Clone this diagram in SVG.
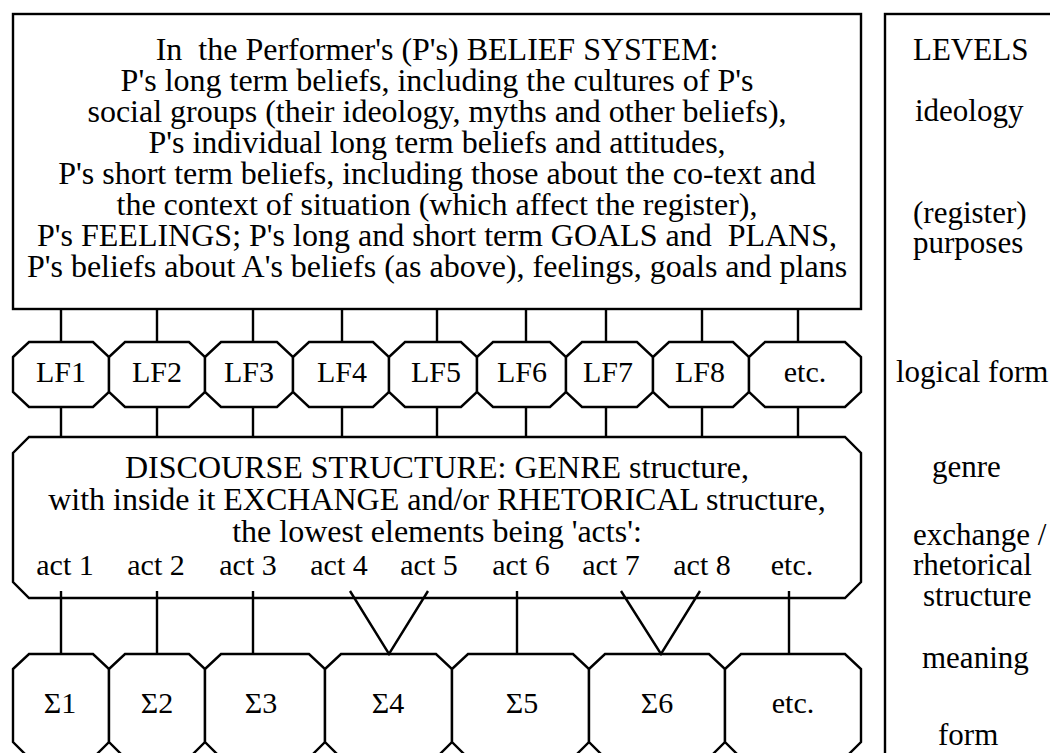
<svg xmlns="http://www.w3.org/2000/svg" width="1050" height="753" viewBox="0 0 1050 753">
<style>
.s{fill:#fff;stroke:#000;stroke-width:2.4;stroke-linejoin:miter}
.c{fill:none;stroke:#000;stroke-width:2.4}
text{font-family:"Liberation Serif","Times New Roman",serif;font-size:32px;fill:#000}
.m{text-anchor:middle}
.n{font-size:30px}
.r{font-size:31px}
</style>
<rect width="1050" height="753" fill="#fff"/>
<g id="belief-system">
<rect class="s" x="13" y="14" width="848" height="295"/>
<text class="m" xml:space="preserve" x="437" y="60">In  the Performer's (P's) BELIEF SYSTEM:</text>
<text class="m" x="437" y="91">P's long term beliefs, including the cultures of P's</text>
<text class="m" x="437" y="122">social groups (their ideology, myths and other beliefs),</text>
<text class="m" x="437" y="153">P's individual long term beliefs and attitudes,</text>
<text class="m" x="437" y="184">P's short term beliefs, including those about the co-text and</text>
<text class="m" x="437" y="215">the context of situation (which affect the register),</text>
<text class="m" xml:space="preserve" x="437" y="246">P's FEELINGS; P's long and short term GOALS and  PLANS,</text>
<text class="m" x="437" y="277">P's beliefs about A's beliefs (as above), feelings, goals and plans</text>
</g>
<g id="levels">
<rect class="s" x="885" y="14" width="200" height="780"/>
<text class="r" x="913" y="60">LEVELS</text>
<text class="r" x="915" y="121">ideology</text>
<text class="r" x="913" y="223">(register)</text>
<text class="r" x="913" y="253">purposes</text>
<text class="r" x="896" y="382">logical form</text>
<text class="r" x="932" y="477">genre</text>
<text class="r" x="913" y="545">exchange /</text>
<text class="r" x="913" y="575">rhetorical</text>
<text class="r" x="923" y="606">structure</text>
<text class="r" x="922" y="668">meaning</text>
<text class="r" x="938" y="745">form</text>
</g>
<g id="lf1"><path class="s" d="M13,357 L29,342 L93,342 L109,357 L109,392 L93,407 L29,407 L13,392 Z"/><text class="m n" x="61" y="382">LF1</text></g>
<g id="lf2"><path class="s" d="M109,357 L125,342 L189,342 L205,357 L205,392 L189,407 L125,407 L109,392 Z"/><text class="m n" x="157" y="382">LF2</text></g>
<g id="lf3"><path class="s" d="M205,357 L221,342 L277,342 L293,357 L293,392 L277,407 L221,407 L205,392 Z"/><text class="m n" x="249" y="382">LF3</text></g>
<g id="lf4"><path class="s" d="M293,357 L309,342 L373,342 L389,357 L389,392 L373,407 L309,407 L293,392 Z"/><text class="m n" x="342" y="382">LF4</text></g>
<g id="lf5"><path class="s" d="M389,357 L405,342 L461,342 L477,357 L477,392 L461,407 L405,407 L389,392 Z"/><text class="m n" x="436" y="382">LF5</text></g>
<g id="lf6"><path class="s" d="M477,357 L493,342 L550,342 L566,357 L566,392 L550,407 L493,407 L477,392 Z"/><text class="m n" x="522" y="382">LF6</text></g>
<g id="lf7"><path class="s" d="M566,357 L582,342 L637,342 L653,357 L653,392 L637,407 L582,407 L566,392 Z"/><text class="m n" x="608" y="382">LF7</text></g>
<g id="lf8"><path class="s" d="M653,357 L669,342 L733,342 L749,357 L749,392 L733,407 L669,407 L653,392 Z"/><text class="m n" x="700" y="382">LF8</text></g>
<g id="lf-etc"><path class="s" d="M749,357 L765,342 L845,342 L861,357 L861,392 L845,407 L765,407 L749,392 Z"/><text class="m n" x="805" y="382">etc.</text></g>
<g id="discourse">
<path class="s" d="M29,437 L845,437 L861,453 L861,582 L845,598 L29,598 L13,582 L13,453 Z"/>
<text class="m" x="437" y="478">DISCOURSE STRUCTURE: GENRE structure,</text>
<text class="m" x="437" y="510">with inside it EXCHANGE and/or RHETORICAL structure,</text>
<text class="m" x="437" y="542">the lowest elements being 'acts':</text>
<text class="m n" x="65" y="575">act 1</text>
<text class="m n" x="156" y="575">act 2</text>
<text class="m n" x="248" y="575">act 3</text>
<text class="m n" x="339" y="575">act 4</text>
<text class="m n" x="429" y="575">act 5</text>
<text class="m n" x="521" y="575">act 6</text>
<text class="m n" x="611" y="575">act 7</text>
<text class="m n" x="702" y="575">act 8</text>
<text class="m n" x="792" y="575">etc.</text>
</g>
<g id="s1"><path class="s" d="M13,669 L29,654 L93,654 L109,669 L109,742 L93,758 L29,758 L13,742 Z"/><text class="m n" x="60" y="713">Σ1</text></g>
<g id="s2"><path class="s" d="M109,669 L125,654 L189,654 L205,669 L205,742 L189,758 L125,758 L109,742 Z"/><text class="m n" x="157" y="713">Σ2</text></g>
<g id="s3"><path class="s" d="M205,669 L221,654 L309,654 L325,669 L325,742 L309,758 L221,758 L205,742 Z"/><text class="m n" x="261" y="713">Σ3</text></g>
<g id="s4"><path class="s" d="M325,669 L341,654 L436,654 L452,669 L452,742 L436,758 L341,758 L325,742 Z"/><text class="m n" x="388" y="713">Σ4</text></g>
<g id="s5"><path class="s" d="M452,669 L468,654 L573,654 L589,669 L589,742 L573,758 L468,758 L452,742 Z"/><text class="m n" x="522" y="713">Σ5</text></g>
<g id="s6"><path class="s" d="M589,669 L605,654 L709,654 L725,669 L725,742 L709,758 L605,758 L589,742 Z"/><text class="m n" x="657" y="713">Σ6</text></g>
<g id="s-etc"><path class="s" d="M725,669 L741,654 L845,654 L861,669 L861,742 L845,758 L741,758 L725,742 Z"/><text class="m n" x="793" y="713">etc.</text></g>
<g id="connectors" class="c">
<path d="M61,309V342M157,309V342M253,309V342M342,309V342M437,309V342M526,309V342M606,309V342M702,309V342M798,309V342"/>
<path d="M61,407V437M157,407V437M253,407V437M342,407V437M437,407V437M526,407V437M606,407V437M702,407V437M798,407V437"/>
<path d="M61,591V654M157,591V654M253,591V654M517,591V654M789,591V654"/>
<path d="M350,591L389,654L428,591M621,591L661,654L700,591"/>
</g>
</svg>
